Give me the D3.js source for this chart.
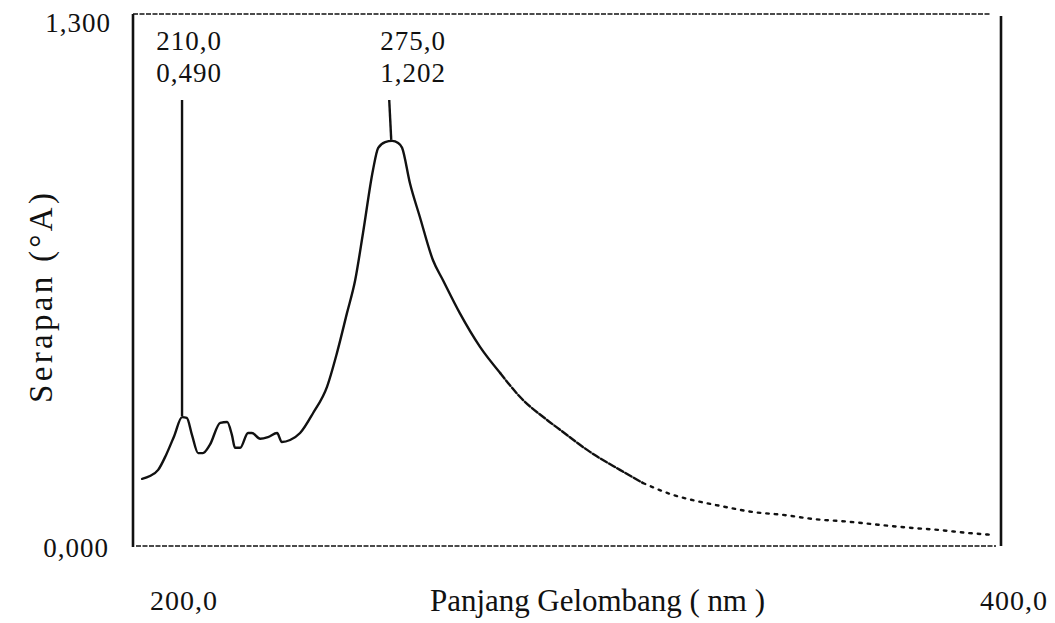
<!DOCTYPE html>
<html>
<head>
<meta charset="utf-8">
<script src="https://cdn.jsdelivr.net/npm/d3@7"></script>
<style>
  html, body { margin: 0; padding: 0; background: #fff; }
  svg { display: block; }
</style>
</head>
<body>
<div id="chart"></div>
<script>
// wavelength (nm) and absorbance
const wavelength = [
  202.1, 203.9, 205.8, 207.6, 209.5, 211.3, 212.4, 213.6, 215.0, 216.1,
  217.7, 220.1, 221.7, 222.8, 223.5, 224.7, 226.5, 227.4, 229.3, 231.1,
  233.2, 234.3, 236.2, 238.5, 241.5, 244.7, 247.0, 249.3, 251.2, 253.0,
  255.3, 256.5, 258.1, 259.7, 261.1, 262.0, 263.8, 266.1, 269.1, 271.4,
  275.3, 280.0, 284.6, 289.2, 295.4, 298.4, 305.3, 312.2, 317.5, 324.4,
  329.0, 335.3, 342.9, 349.8, 356.7, 365.2, 369.8, 374.4, 379.7, 385.9,
  392.2, 398.2
];
const absorbance = [
  0.164, 0.171, 0.186, 0.222, 0.269, 0.315, 0.313, 0.271, 0.227, 0.227,
  0.247, 0.301, 0.303, 0.271, 0.240, 0.240, 0.276, 0.276, 0.262, 0.266,
  0.276, 0.254, 0.259, 0.276, 0.325, 0.389, 0.472, 0.569, 0.650, 0.765,
  0.919, 0.973, 0.987, 0.990, 0.985, 0.973, 0.887, 0.804, 0.699, 0.650,
  0.569, 0.486, 0.423, 0.364, 0.308, 0.284, 0.230, 0.186, 0.154, 0.125,
  0.112, 0.098, 0.083, 0.076, 0.066, 0.059, 0.054, 0.049, 0.044, 0.039,
  0.032, 0.027
];

// peak markers as printed by the instrument
const peakX = [211.3, 259.5];
const peakBase = [0.315, 0.990];
const peakTop = [1.09, 1.09];
const peakNm = ['210,0', '275,0'];
const peakAbs = ['0,490', '1,202'];

const xEnds = [200, 400];
const yEnds = [0, 1.3];
const xTitle = 'Panjang Gelombang ( nm )';
const yTitle = 'Serapan (°A)';

const W = 1055, H = 623;
const margin = { top: 14, right: 54, bottom: 77, left: 133 };
const FONT = '"Liberation Serif", "DejaVu Serif", serif';
const INK = '#111';
const NUM_SIZE = 27;

const svg = d3.select('#chart').append('svg')
  .attr('width', W).attr('height', H)
  .style('font-family', FONT);

const x = d3.scaleLinear().domain(xEnds).range([margin.left, W - margin.right]);
const y = d3.scaleLinear().domain(yEnds).range([H - margin.bottom, margin.top]);

const fmtX = v => d3.format('.1f')(v).replace('.', ',');
const fmtY = v => d3.format('.3f')(v).replace('.', ',');

// frame: solid sides, fine dashed top and bottom
const [x0, x1] = x.range();
const [yb, yt] = y.range();
svg.append('line').attr('x1', x0).attr('x2', x0).attr('y1', yt).attr('y2', yb + 1)
  .attr('stroke', INK).attr('stroke-width', 2.6);
svg.append('line').attr('x1', x1).attr('x2', x1).attr('y1', yt + 2).attr('y2', yb)
  .attr('stroke', INK).attr('stroke-width', 2.6);
svg.append('line').attr('x1', x0).attr('x2', x1 - 10).attr('y1', yt).attr('y2', yt)
  .attr('stroke', INK).attr('stroke-width', 1.6).attr('stroke-dasharray', '5,1.5');
svg.append('line').attr('x1', x0 + 3).attr('x2', x1 - 5).attr('y1', yb).attr('y2', yb)
  .attr('stroke', INK).attr('stroke-width', 1.6).attr('stroke-dasharray', '5,1.5');

// spectrum: solid, then dashed, then dotted as on the printout
const pts = wavelength.map((w, i) => [w, absorbance[i]]);
const line = d3.line().x(d => x(d[0])).y(d => y(d[1])).curve(d3.curveMonotoneX);
const parts = [
  { from: 0, to: 285, dash: null },
  { from: 284.6, to: 318, dash: '7,2.5' },
  { from: 317.5, to: 999, dash: '2.5,6' }
];
parts.forEach(p => {
  const seg = pts.filter(d => d[0] >= p.from && d[0] <= p.to);
  svg.append('path').attr('d', line(seg))
    .attr('fill', 'none').attr('stroke', INK).attr('stroke-width', 2.4)
    .attr('stroke-linejoin', 'round').attr('stroke-linecap', 'round')
    .attr('stroke-dasharray', p.dash);
});

// peak marker lines and labels
const labelDx = [7, 22];
peakX.forEach((px, i) => {
  svg.append('line')
    .attr('x1', x(px) - (i ? 2 : 0)).attr('x2', x(px))
    .attr('y1', y(peakTop[i])).attr('y2', y(peakBase[i]) - 1)
    .attr('stroke', INK).attr('stroke-width', 2.4);
  const cx = x(px) + labelDx[i];
  svg.append('text').attr('x', cx).attr('y', 50).attr('text-anchor', 'middle')
    .attr('font-size', NUM_SIZE).attr('letter-spacing', 1).attr('fill', INK).text(peakNm[i]);
  svg.append('text').attr('x', cx).attr('y', 82).attr('text-anchor', 'middle')
    .attr('font-size', NUM_SIZE).attr('letter-spacing', 1).attr('fill', INK).text(peakAbs[i]);
});

// corner values
svg.append('text').attr('x', x0 - 22).attr('y', yt + 18).attr('text-anchor', 'end')
  .attr('font-size', NUM_SIZE).attr('letter-spacing', 1).attr('fill', INK).text(fmtY(yEnds[1]));
svg.append('text').attr('x', x0 - 24).attr('y', yb + 11).attr('text-anchor', 'end')
  .attr('font-size', NUM_SIZE).attr('letter-spacing', 1).attr('fill', INK).text(fmtY(yEnds[0]));
svg.append('text').attr('x', x0 + 17).attr('y', 610).attr('text-anchor', 'start')
  .attr('font-size', NUM_SIZE + 1).attr('letter-spacing', 1).attr('fill', INK).text(fmtX(xEnds[0]));
svg.append('text').attr('x', x1 + 47).attr('y', 610).attr('text-anchor', 'end')
  .attr('font-size', NUM_SIZE + 1).attr('letter-spacing', 1).attr('fill', INK).text(fmtX(xEnds[1]));

// axis titles
svg.append('text').attr('x', 430).attr('y', 611)
  .attr('font-size', 31).attr('fill', INK)
  .attr('textLength', 335).attr('lengthAdjust', 'spacing')
  .text(xTitle);
svg.append('text')
  .attr('transform', 'translate(52,298) rotate(-90)')
  .attr('text-anchor', 'middle')
  .attr('font-size', 33).attr('fill', INK)
  .attr('textLength', 210).attr('lengthAdjust', 'spacing')
  .text(yTitle);
</script>
</body>
</html>
